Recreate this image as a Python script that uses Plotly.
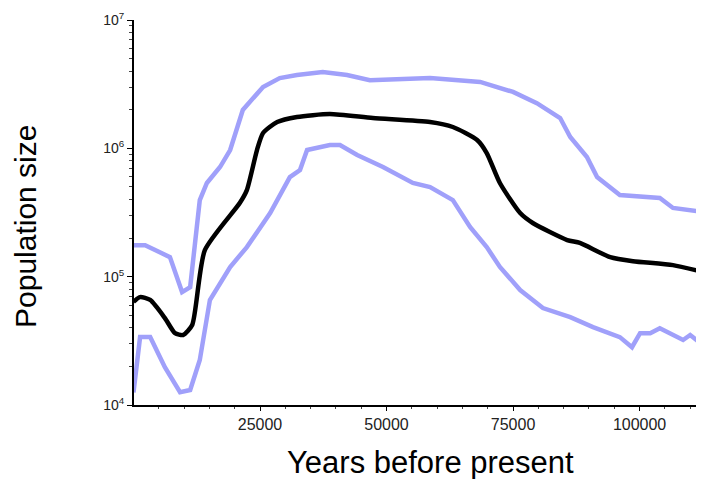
import plotly.graph_objects as go

# Mean estimate (black)
mean_years = [0, 1300, 3300, 6200, 8200, 9800, 11600, 14100, 21000, 22400, 24400, 25600,
              28400, 32300, 38800, 47300, 58600, 63100, 67900, 69800, 72400, 76400, 78900,
              85700, 88200, 94200, 98700, 106600, 112500]
mean_pop = [63700, 69300, 65800, 47600, 36300, 35100, 42000, 161000, 375000, 473000, 970000,
            1316000, 1603000, 1754000, 1850000, 1722000, 1603000, 1466000, 1161000, 919000,
            537000, 313000, 262000, 193000, 183000, 142000, 132000, 123000, 109000]

# Upper bound (blue)
upper_years = [0, 2300, 7200, 9600, 11200, 13100, 14500, 17100, 19100, 21600, 25600, 28900,
               32300, 37400, 42200, 46700, 58600, 68500, 75000, 79700, 84300, 86300, 89600,
               91600, 96100, 104000, 106600, 112500]
upper_pop = [176000, 176000, 142000, 75900, 83000, 395000, 537000, 715000, 970000, 1990000,
             3010000, 3530000, 3730000, 3930000, 3730000, 3400000, 3530000, 3290000, 2750000,
             2250000, 1722000, 1225000, 855000, 597000, 432000, 410000, 343000, 319000]

# Lower bound (blue)
lower_years = [0, 1300, 3300, 6200, 9200, 11200, 13100, 15100, 19100, 22400, 27000, 30900,
               32900, 34300, 38800, 40800, 44200, 49300, 55200, 58600, 63100, 66500, 69800,
               72400, 76400, 80900, 86300, 90800, 96100, 98500, 100100, 102100, 104000,
               108600, 110000, 112500]
lower_pop = [12500, 33800, 33800, 19700, 12600, 13100, 22400, 65800, 119000, 170000, 313000,
             597000, 677000, 970000, 1061000, 1061000, 887000, 715000, 537000, 499000, 395000,
             244000, 170000, 119000, 78700, 56900, 48400, 40500, 33800, 28200, 36300, 36300,
             39700, 32100, 35100, 29300]

y_tick_vals = [1e4, 1e5, 1e6, 1e7]
y_tick_text = ["10<sup>4</sup>", "10<sup>5</sup>", "10<sup>6</sup>", "10<sup>7</sup>"]
x_tick_vals = [25000, 50000, 75000, 100000]
x_tick_text = ["25000", "50000", "75000", "100000"]

blue = "rgb(160,160,250)"
font = "Liberation Sans, Arial, Helvetica, sans-serif"

# page has an 8px default body margin; visible area ends at page x ~696
W, H = 688, 471
L, T, B, R = 126, 12, 74, 0
X_END = (696 - 133.5) * 197.6

fig = go.Figure()
fig.add_trace(go.Scatter(x=upper_years, y=upper_pop, mode="lines",
                         line=dict(color=blue, width=4.5), showlegend=False))
fig.add_trace(go.Scatter(x=lower_years, y=lower_pop, mode="lines",
                         line=dict(color=blue, width=4.5), showlegend=False))
fig.add_trace(go.Scatter(x=mean_years, y=mean_pop, mode="lines",
                         line=dict(color="black", width=4.5, shape="spline", smoothing=0.6),
                         showlegend=False))

pw, ph = W - L - R, H - T - B


def paper_x(px):
    return (px - 8 - L) / pw


def paper_y(py):
    return (H - B - (py - 8)) / ph


fig.update_layout(
    width=W, height=H,
    margin=dict(l=L, r=R, t=T, b=B),
    paper_bgcolor="white", plot_bgcolor="white",
    font=dict(family=font, color="#222222", size=14),
    xaxis=dict(range=[100, X_END], showgrid=False, zeroline=False,
               showline=True, linecolor="black", linewidth=2,
               tickvals=x_tick_vals, ticktext=x_tick_text,
               ticks="outside", ticklen=4, tickcolor="black", tickwidth=1,
               tickfont=dict(size=16, color="#222222"),
               minor=dict(tickvals=list(range(5000, 125000, 5000)), ticks="outside",
                          ticklen=2, tickcolor="#444444", showgrid=False)),
    yaxis=dict(type="log", range=[4, 7], showgrid=False, zeroline=False,
               showline=True, linecolor="black", linewidth=2,
               tickvals=y_tick_vals, ticktext=y_tick_text,
               ticks="outside", ticklen=5, tickcolor="black", tickwidth=1,
               tickfont=dict(size=14, color="#222222"),
               minor=dict(dtick="D1", ticks="outside", ticklen=3,
                          tickcolor="#444444", showgrid=False)),
    annotations=[
        dict(text="Population size", x=paper_x(25), y=paper_y(227), xref="paper", yref="paper",
             xanchor="center", yanchor="middle",
             showarrow=False, textangle=-90, font=dict(size=30, color="black", family=font)),
        dict(text="Years before present", x=paper_x(430), y=paper_y(462), xref="paper",
             yref="paper", xanchor="center", yanchor="middle",
             showarrow=False, font=dict(size=31, color="black", family=font)),
    ],
)

fig.write_html("out.html")
